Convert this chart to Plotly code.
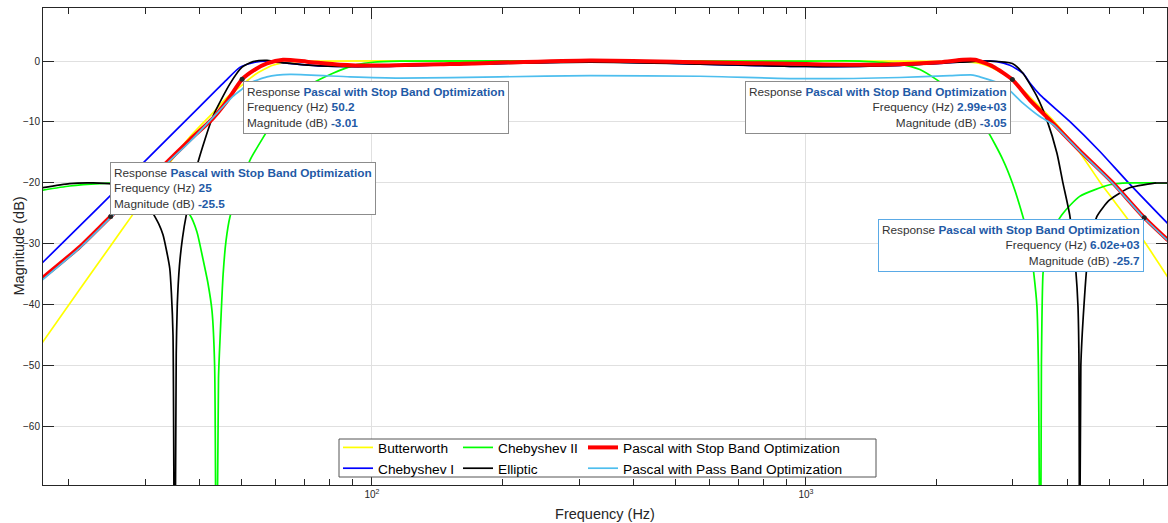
import numpy as np
import plotly.graph_objects as go

# ---------------- data (frequency in Hz, magnitude in dB) ----------------
bw_f = [17.4, 21.2, 25.0, 28.1, 30.8, 34.2, 38.1, 43.0, 46.3, 49.7, 53.8, 59.1, 65.8, 75.9, 151,
        570, 1646, 2263, 2517, 2754, 2990, 3334, 3708, 4274, 4752, 5097, 5977, 6826]
bw_db = [-46.2, -37.5, -30.3, -25.2, -21.3, -16.7, -12.4, -8.5, -6.0, -4.2, -2.2, -0.7, -0.1, 0, 0,
         0, 0, -0.1, -0.4, -1.5, -3.1, -6.4, -9.7, -15.0, -19.8, -22.7, -29.3, -35.5]

c1_f = [17.4, 23.6, 30.8, 40.2, 45.9, 49.7, 53.8, 56.7, 64.7, 75.9, 100, 151, 318, 570, 1000,
        1646, 2036, 2451, 2754, 2951, 3162, 3281, 3459, 4054, 4752, 5492, 6826]
c1_db = [-33.1, -23.8, -15.6, -7.4, -3.3, -1.0, -0.2, 0, -0.4, -0.8, -0.9, -0.6, -0.1, -0.5, -0.9,
         -0.7, -0.4, 0, -0.1, -0.7, -2.0, -3.6, -5.5, -9.9, -14.8, -19.7, -26.7]

c2_f = [17.4, 20.1, 23.6, 26.2, 29.2, 32.5, 35.2, 38.1, 39.5, 40.8, 41.9, 42.8, 43.4, 43.8, 44.3,
        44.7, 45.4, 46.1, 47.1, 49.7, 52.4, 57.3, 61.4, 65.8, 70.8, 75.9, 81.3, 86.7, 92.3, 100.5,
        116, 318, 1000, 1332, 1481, 1646, 1831, 2004, 2147, 2300, 2451, 2612, 2844, 2990, 3162,
        3281, 3352, 3406, 3433, 3470, 3488, 3517, 3554, 3647, 3910, 4274, 5010, 5569, 6826]
c2_db = [-21.2, -20.5, -20.1, -20.0, -20.3, -21.2, -22.8, -25.3, -28.0, -32.5, -36.5, -41.0, -50.0, -95, -52,
         -45, -35, -29.5, -25.5, -20.5, -16.2, -11.5, -7.8, -5.8, -4.2, -3.0, -2.0, -1.2, -0.6, -0.2,
         0, 0, 0, 0, -0.2, -0.5, -1.4, -3.1, -4.7, -6.9, -9.0, -11.3, -16.2, -20.0, -25.5,
         -30.0, -35.0, -40.2, -50, -95, -50, -35, -32, -28.5, -25.0, -22.2, -20.3, -20.0, -20.0]

el_f = [17.4, 20.1, 22.8, 25.3, 27.7, 29.2, 30.3, 31.3, 32.3, 33.0, 33.6, 34.2, 34.5, 34.8, 35.1,
        35.4, 35.6, 36.0, 36.6, 37.4, 39.7, 43.0, 47.1, 50.2, 53.2, 57.3, 63.0, 75.9, 100, 151,
        318, 570, 1000, 1646, 2263, 2655, 2990, 3162, 3406, 3592, 3787, 3910, 4054, 4190, 4235,
        4256, 4274, 4300, 4371, 4465, 4683, 5010, 5569, 6441, 6826]
el_db = [-20.8, -20.1, -20.0, -20.2, -20.8, -21.8, -23.3, -25.0, -26.8, -28.5, -31.0, -34.0, -38.0, -45.0, -95,
         -48, -40, -33.7, -29.0, -25.0, -16.7, -9.1, -3.7, -1.0, -0.1, 0.1, -0.3, -0.8, -0.9, -0.6,
         -0.2, -0.5, -0.9, -0.7, -0.2, 0, -0.4, -2.0, -5.8, -9.7, -15.1, -20.0, -25.3, -34.7, -40.2,
         -48, -95, -50, -40.2, -32, -25.5, -22.8, -20.8, -20.0, -20.0]

ps_f = [17.4, 21.2, 25.0, 29.2, 33.7, 38.1, 43.0, 46.3, 50.2, 53.8, 57.3, 62.4, 70.8, 84.4, 100.5,
        151, 318, 570, 1000, 1481, 2036, 2300, 2451, 2697, 2990, 3281, 3708, 4274, 5097, 6020, 6826]
ps_db = [-35.6, -30.5, -25.5, -21.0, -16.6, -12.9, -9.4, -6.6, -3.01, -1.4, -0.4, 0.2, -0.1, -0.6, -0.75,
         -0.5, 0.1, -0.2, -0.5, -0.6, -0.2, 0.2, 0.2, -0.9, -3.05, -6.4, -10.2, -14.7, -20.0, -25.7, -29.4]

pp_f = [17.4, 21.2, 25.0, 29.2, 33.7, 38.1, 43.9, 47.8, 50.2, 52.4, 57.3, 64.7, 89.0, 116, 197,
        318, 570, 1000, 1646, 2147, 2426, 2517, 2844, 3162, 3459, 3708, 4274, 5097, 6020, 6826]
pp_db = [-35.9, -30.7, -25.7, -21.2, -16.8, -13.2, -8.6, -5.8, -4.6, -3.6, -2.6, -2.2, -2.6, -2.8, -2.6,
         -2.4, -2.5, -2.9, -2.7, -2.4, -2.3, -2.6, -3.9, -6.9, -9.1, -10.4, -14.8, -20.1, -25.8, -29.5]

tip_f = [25, 50.2, 2990, 6020]
tip_db = [-25.5, -3.01, -3.05, -25.7]
tip_flabel = ["25", "50.2", "2.99e+03", "6.02e+03"]
tip_mlabel = ["-25.5", "-3.01", "-3.05", "-25.7"]

y_ticks = [0, -10, -20, -30, -40, -50, -60]
x_major = [100, 1000]
x_major_text = ["10<sup>2</sup>", "10<sup>3</sup>"]
x_minor = [20, 30, 40, 50, 60, 70, 80, 90, 200, 300, 400, 500, 600, 700, 800, 900,
           2000, 3000, 4000, 5000, 6000]

FONT = "Liberation Sans, Arial, Helvetica, sans-serif"
AXC = "#262626"
TIPBLUE = "#1f5aa6"

series = [
    ("Butterworth", bw_f, bw_db, "#ffff00", 1.7, "legend"),
    ("Chebyshev I", c1_f, c1_db, "#0000ff", 1.7, "legend"),
    ("Chebyshev II", c2_f, c2_db, "#00ff00", 1.7, "legend2"),
    ("Elliptic", el_f, el_db, "#000000", 1.7, "legend2"),
    ("Pascal with Stop Band Optimization", ps_f, ps_db, "#ff0000", 4, "legend3"),
    ("Pascal with Pass Band Optimization", pp_f, pp_db, "#4dbeee", 1.7, "legend3"),
]

fig = go.Figure()
for name, f, d, c, w, lg in series:
    fig.add_trace(go.Scatter(x=f, y=d, mode="lines", name=name, legend=lg,
                             line=dict(color=c, width=w, shape="spline", smoothing=0.6)))

fig.add_trace(go.Scatter(x=tip_f, y=tip_db, mode="markers", showlegend=False,
                         marker=dict(color=AXC, size=5)))

# datatips
anchors = [("left", "bottom", -1, 1, "left", "#8c8c8c"),
           ("left", "top", 1, -2, "left", "#8c8c8c"),
           ("right", "top", -1, -1, "right", "#8c8c8c"),
           ("right", "top", 0, -1, "right", "#5aaae6")]
for i in range(4):
    xa, ya, xs, ys, al, bc = anchors[i]
    txt = ("Response <span style='color:%s'><b>Pascal with Stop Band Optimization</b></span><br>"
           "Frequency (Hz) <span style='color:%s'><b>%s</b></span><br>"
           "Magnitude (dB) <span style='color:%s'><b>%s</b></span>"
           % (TIPBLUE, TIPBLUE, tip_flabel[i], TIPBLUE, tip_mlabel[i]))
    fig.add_annotation(x=np.log10(tip_f[i]), y=tip_db[i], xref="x", yref="y", text=txt,
                       showarrow=False, xanchor=xa, yanchor=ya, xshift=xs, yshift=ys,
                       align=al, bgcolor="white", bordercolor=bc, borderwidth=1, borderpad=3,
                       font=dict(family=FONT, size=11.8, color="#333333"))

# legend frame
L, T, W, H = 43, 8, 1124, 477
def px(x):
    return (x - L) / W
def py(y):
    return (T + H - y) / H

fig.add_shape(type="rect", xref="paper", yref="paper", x0=px(339), x1=px(876), y0=py(477), y1=py(439),
              fillcolor="white", line=dict(color="#555555", width=1), layer="above")

leg_common = dict(yanchor="top", xanchor="left", bgcolor="rgba(0,0,0,0)", borderwidth=0,
                  font=dict(family=FONT, size=13.7, color="#000000"), orientation="v")
fig.update_layout(
    legend=dict(x=px(338), y=py(432.0), **leg_common),
    legend2=dict(x=px(458), y=py(432.0), **leg_common),
    legend3=dict(x=px(583), y=py(432.0), **leg_common),
)

# y-axis title placed as text
fig.add_annotation(x=px(18), y=0.5, xref="paper", yref="paper", text="Magnitude (dB)",
                   textangle=-90, showarrow=False, xanchor="center", yanchor="middle",
                   font=dict(family=FONT, size=14.5, color=AXC))

fig.update_layout(
    template="none",
    width=1168, height=523,
    margin=dict(l=L, r=1168 - L - W, t=T, b=523 - T - H, pad=0),
    paper_bgcolor="white", plot_bgcolor="white",
    font=dict(family=FONT, color=AXC),
    xaxis=dict(type="log", range=[1.242, 3.832], tickvals=x_major, ticktext=x_major_text,
               ticks="inside", ticklen=11, tickcolor=AXC, tickwidth=1,
               showgrid=True, gridcolor="#e0e0e0", gridwidth=1,
               showline=True, linecolor=AXC, linewidth=1, mirror="allticks", zeroline=False,
               tickfont=dict(family=FONT, size=10, color=AXC),
               minor=dict(tickvals=x_minor, ticks="inside", ticklen=6, tickcolor=AXC, showgrid=False),
               title=dict(text="Frequency (Hz)", font=dict(family=FONT, size=14.5, color=AXC), standoff=9),
               automargin=False),
    yaxis=dict(range=[-69.56, 8.7], tickvals=y_ticks,
               ticks="inside", ticklen=11, tickcolor=AXC, tickwidth=1,
               showgrid=True, gridcolor="#e0e0e0", gridwidth=1,
               showline=True, linecolor=AXC, linewidth=1, mirror="allticks", zeroline=False,
               tickfont=dict(family=FONT, size=10, color=AXC),
               automargin=False),
)

fig.write_html("out.html")
